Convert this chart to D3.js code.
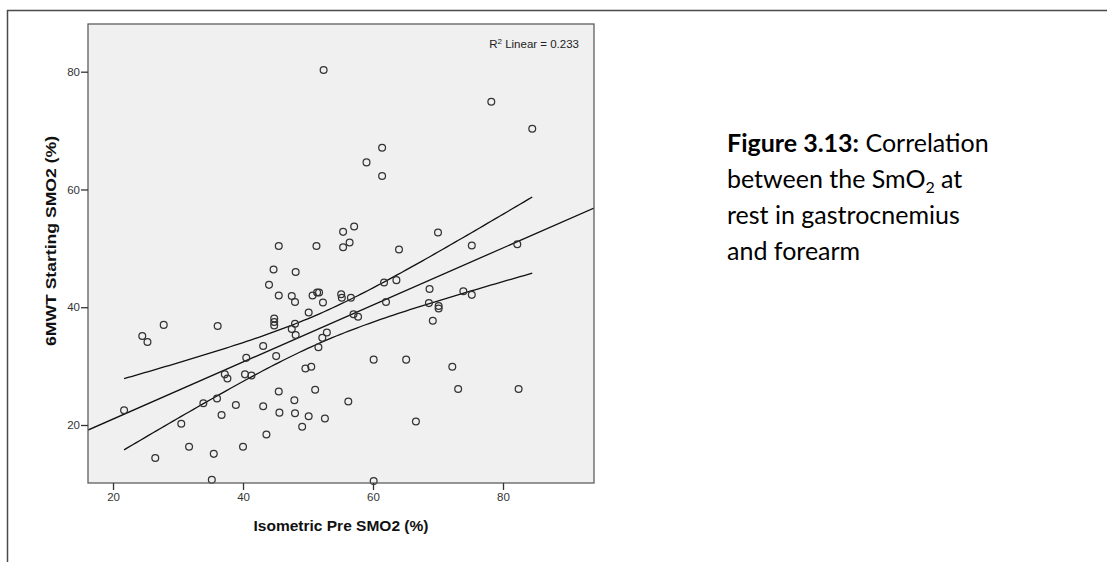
<!DOCTYPE html>
<html>
<head>
<meta charset="utf-8">
<script src="https://cdn.jsdelivr.net/npm/d3@7"></script>
<style>
  html, body { margin: 0; padding: 0; background: #ffffff; }
  svg { display: block; }
</style>
</head>
<body>
<svg id="chart" width="1107" height="562"></svg>
<script>
// ---- data ----
const isometricPreSmo2 = [
  52.4, 45.5, 51.3, 78.2, 84.5, 61.4, 59.0, 61.4, 55.4, 57.1, 56.4, 55.4, 64.0, 70.0, 75.2, 82.2,
  44.7, 48.1, 44.0, 45.5, 47.5, 48.0, 50.7, 51.4, 51.7, 52.3, 50.1, 44.8, 44.8, 44.8, 48.0, 47.5,
  48.1, 52.9, 52.2, 51.6, 49.6, 50.5, 51.1, 52.6, 50.1, 49.1, 47.9, 48.0, 45.6, 45.5, 45.1, 43.1,
  43.1, 43.6, 40.5, 40.3, 41.3, 37.2, 37.6, 38.9, 36.0, 36.7, 33.9, 30.5, 31.7, 35.5, 40.0, 35.2,
  26.5, 21.7, 24.5, 25.3, 27.8, 36.1,
  61.7, 63.6, 55.1, 55.2, 56.6, 62.0, 57.0, 57.7, 68.7, 68.6, 70.1, 70.1, 69.2, 73.9, 75.2, 60.1,
  65.1, 72.2, 73.1, 82.4, 56.2, 66.6, 60.1
];
const startingSmo2 = [
  80.3, 50.4, 50.4, 74.9, 70.3, 67.1, 64.6, 62.3, 52.8, 53.7, 51.0, 50.2, 49.8, 52.7, 50.5, 50.7,
  46.4, 46.0, 43.8, 42.0, 41.9, 40.9, 42.0, 42.5, 42.5, 40.8, 39.1, 38.1, 37.5, 36.9, 37.2, 36.3,
  35.3, 35.7, 34.8, 33.2, 29.6, 29.9, 26.0, 21.1, 21.5, 19.7, 24.2, 22.0, 22.1, 25.7, 31.7, 33.4,
  23.2, 18.4, 31.4, 28.6, 28.4, 28.6, 27.9, 23.4, 24.5, 21.7, 23.7, 20.2, 16.3, 15.1, 16.3, 10.7,
  14.4, 22.5, 35.1, 34.1, 37.0, 36.8,
  44.2, 44.6, 42.2, 41.6, 41.6, 40.9, 38.8, 38.4, 43.1, 40.7, 40.2, 39.8, 37.7, 42.7, 42.1, 31.1,
  31.1, 29.9, 26.1, 26.1, 24.0, 20.6, 10.5
];
const xTicks = [20, 40, 60, 80];
const yTicks = [20, 40, 60, 80];
const xDomain = [16.15, 94.0];
const yDomain = [10.15, 88.1];
const xTitle = "Isometric Pre SMO2 (%)";
const yTitle = "6MWT Starting SMO2 (%)";
const r2Label = "0.233";

// ---- layout ----
const svg = d3.select("#chart");
const plot = { left: 88, right: 594, top: 24, bottom: 483 };
const x = d3.scaleLinear().domain(xDomain).range([plot.left, plot.right]);
const y = d3.scaleLinear().domain(yDomain).range([plot.bottom, plot.top]);

// outer frame (only top and left visible)
svg.append("path")
  .attr("d", "M7.5,562 V10.5 H1107")
  .attr("fill", "none").attr("stroke", "#4a4a4a").attr("stroke-width", 1.5);

// plot background
svg.append("rect")
  .attr("x", plot.left).attr("y", plot.top)
  .attr("width", plot.right - plot.left).attr("height", plot.bottom - plot.top)
  .attr("fill", "#f0f0f0");

const clipId = "plotclip";
svg.append("clipPath").attr("id", clipId).append("rect")
  .attr("x", plot.left).attr("y", plot.top)
  .attr("width", plot.right - plot.left).attr("height", plot.bottom - plot.top);

// ---- regression with 95% mean confidence band ----
const pts = isometricPreSmo2.map((v, i) => ({ x: v, y: startingSmo2[i] }));
const n = pts.length;
const mx = d3.mean(pts, d => d.x), my = d3.mean(pts, d => d.y);
const sxx = d3.sum(pts, d => (d.x - mx) ** 2);
const sxy = d3.sum(pts, d => (d.x - mx) * (d.y - my));
const b = sxy / sxx, a = my - b * mx;
const sse = d3.sum(pts, d => (d.y - (a + b * d.x)) ** 2);
const s = Math.sqrt(sse / (n - 2));
const tval = 1.986;
const fit = v => a + b * v;
const half = v => tval * s * Math.sqrt(1 / n + (v - mx) ** 2 / sxx);

const gLines = svg.append("g").attr("clip-path", `url(#${clipId})`);
const line = d3.line().x(d => x(d[0])).y(d => y(d[1]));
gLines.append("path")
  .attr("d", line([[xDomain[0], fit(xDomain[0])], [xDomain[1], fit(xDomain[1])]]))
  .attr("fill", "none").attr("stroke", "#111").attr("stroke-width", 1.3);
const [xmin, xmax] = d3.extent(pts, d => d.x);
const xs = d3.range(0, 101).map(i => xmin + (xmax - xmin) * i / 100);
gLines.append("path")
  .attr("d", line(xs.map(v => [v, fit(v) + half(v)])))
  .attr("fill", "none").attr("stroke", "#111").attr("stroke-width", 1.3);
gLines.append("path")
  .attr("d", line(xs.map(v => [v, fit(v) - half(v)])))
  .attr("fill", "none").attr("stroke", "#111").attr("stroke-width", 1.3);

// points
svg.append("g").selectAll("circle").data(pts).join("circle")
  .attr("cx", d => x(d.x)).attr("cy", d => y(d.y)).attr("r", 3.4)
  .attr("fill", "none").attr("stroke", "#333").attr("stroke-width", 1.25);

// plot border
svg.append("rect")
  .attr("x", plot.left).attr("y", plot.top)
  .attr("width", plot.right - plot.left).attr("height", plot.bottom - plot.top)
  .attr("fill", "none").attr("stroke", "#5e5e5e").attr("stroke-width", 1.3);

// axes
const axisFont = "'Liberation Sans', Arial, sans-serif";
const gx = svg.append("g").attr("transform", `translate(0,${plot.bottom})`)
  .call(d3.axisBottom(x).tickValues(xTicks).tickSize(7).tickPadding(3));
const gy = svg.append("g").attr("transform", `translate(${plot.left},0)`)
  .call(d3.axisLeft(y).tickValues(yTicks).tickSize(7).tickPadding(1));
[gx, gy].forEach(g => {
  g.select(".domain").remove();
  g.selectAll(".tick line").attr("stroke", "#333").attr("stroke-width", 1.3);
  g.selectAll(".tick text").attr("fill", "#333")
    .style("font-family", axisFont).style("font-size", "11.5px");
});

// axis titles
svg.append("text")
  .attr("x", (plot.left + plot.right) / 2).attr("y", 531)
  .attr("text-anchor", "middle")
  .style("font-family", axisFont).style("font-size", "15.5px").style("font-weight", "bold")
  .attr("fill", "#111").text(xTitle);
svg.append("text")
  .attr("transform", `translate(56,241) rotate(-90)`)
  .attr("text-anchor", "middle")
  .attr("textLength", 210).attr("lengthAdjust", "spacingAndGlyphs")
  .style("font-family", axisFont).style("font-size", "15.5px").style("font-weight", "bold")
  .attr("fill", "#111").text(yTitle);

// R2 label
const r2 = svg.append("text")
  .attr("x", 579).attr("y", 48).attr("text-anchor", "end")
  .style("font-family", axisFont).style("font-size", "11.5px").attr("fill", "#222");
r2.append("tspan").text("R");
r2.append("tspan").attr("dy", -4).style("font-size", "8px").text("2");
r2.append("tspan").attr("dy", 4).text(" Linear = " + r2Label);

// caption
const capFont = "Lato, 'Open Sans', sans-serif";
const cap = svg.append("text")
  .style("font-family", capFont).style("font-size", "25px").attr("fill", "#000");
const l1 = cap.append("tspan").attr("x", 727).attr("y", 152);
l1.append("tspan").style("font-weight", "bold").text("Figure 3.13:");
l1.append("tspan").text(" Correlation");
const l2 = cap.append("tspan").attr("x", 727).attr("y", 188);
l2.append("tspan").text("between the SmO");
l2.append("tspan").style("font-size", "16px").attr("dy", 5).text("2");
l2.append("tspan").attr("dy", -5).text(" at");
cap.append("tspan").attr("x", 727).attr("y", 224).text("rest in gastrocnemius");
cap.append("tspan").attr("x", 727).attr("y", 260).text("and forearm");
</script>
</body>
</html>
